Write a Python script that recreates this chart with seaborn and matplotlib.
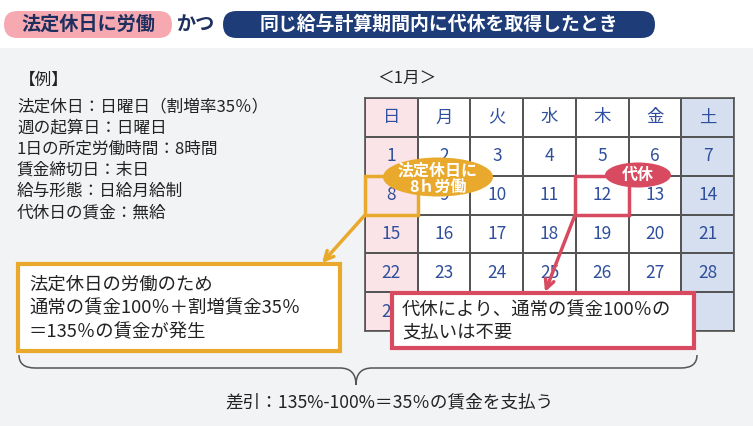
import numpy as np
import matplotlib.pyplot as plt
import seaborn as sns
from matplotlib.patches import Rectangle, FancyBboxPatch, Ellipse, PathPatch
from matplotlib.path import Path
from matplotlib.colors import ListedColormap

# Calendar data (January, week starts on Sunday)
weekdays = ['日', '月', '火', '水', '木', '金', '土']
weeks = [
    ['1', '2', '3', '4', '5', '6', '7'],
    ['8', '9', '10', '11', '12', '13', '14'],
    ['15', '16', '17', '18', '19', '20', '21'],
    ['22', '23', '24', '25', '26', '27', '28'],
    ['29', '30', '31', '', '', '', ''],
]
# colour class per weekday column: 0 normal, 1 Sunday, 2 Saturday
day_class = [1, 0, 0, 0, 0, 0, 2]

example_lines = [
    '法定休日：日曜日（割増率35％）',
    '週の起算日：日曜日',
    '1日の所定労働時間：8時間',
    '賃金締切日：末日',
    '給与形態：日給月給制',
    '代休日の賃金：無給',
]
orange_lines = ['法定休日の労働のため', '通常の賃金100％＋割増賃金35％', '＝135％の賃金が発生']
red_lines = ['代休により、通常の賃金100％の', '支払いは不要']

sns.set_theme(style='white')
plt.rcParams['font.family'] = ['Noto Sans CJK JP', 'DejaVu Sans']

W, H = 753, 426
ORANGE = '#e9a92c'
RED = '#d84a5f'
NAVY = '#1e3c78'
TXT = '#222222'
BLUE_TXT = '#2f4f9d'

fig = plt.figure(figsize=(7.53, 4.26), dpi=100)


def px_axes(z):
    ax = fig.add_axes([0, 0, 1, 1], zorder=z)
    ax.set_xlim(0, W)
    ax.set_ylim(H, 0)
    ax.axis('off')
    ax.patch.set_alpha(0)
    return ax


# background layer
bg = px_axes(0)
bg.add_patch(Rectangle((0, 48), W, H - 48, color='#f2f3f5', lw=0))
bg.add_patch(FancyBboxPatch((4, 11), 168, 27, boxstyle='round,pad=0,rounding_size=13.5',
                            fc='#f7a9b1', ec='none'))
bg.text(88, 24.5, '法定休日に労働', ha='center', va='center', fontsize=13.8,
        fontweight='bold', color='#1d2f5e')
bg.text(196, 24.5, 'かつ', ha='center', va='center', fontsize=13.8,
        fontweight='bold', color='#1d2f5e')
bg.add_patch(FancyBboxPatch((223, 11), 432, 27, boxstyle='round,pad=0,rounding_size=13.5',
                            fc=NAVY, ec='none'))
bg.text(439, 24.5, '同じ給与計算期間内に代休を取得したとき', ha='center', va='center',
        fontsize=13.6, fontweight='bold', color='white')

bg.text(19, 80, '【例】', ha='left', va='center', fontsize=12, color=TXT)
for i, line in enumerate(example_lines):
    bg.text(17, 107 + i * 21.2, line, ha='left', va='center', fontsize=12, color=TXT)
bg.text(377, 78, '＜1月＞', ha='left', va='center', fontsize=12, color=TXT)

# calendar via heatmap
labels = np.array([weekdays] + weeks, dtype=object)
cats = np.array([day_class for _ in range(len(labels))])
cmap = ListedColormap(['white', '#fbe4e7', '#d6dff0'])
ax_cal = fig.add_axes([365 / W, 1 - 331 / H, 369 / W, 233 / H], zorder=1)
sns.heatmap(cats, annot=labels, fmt='', cmap=cmap, vmin=0, vmax=2, cbar=False,
            linewidths=1.2, linecolor='#555555', xticklabels=False, yticklabels=False,
            ax=ax_cal, annot_kws={'fontsize': 12.5, 'color': BLUE_TXT})
for s in ax_cal.spines.values():
    s.set_visible(True)
    s.set_color('#555555')
    s.set_linewidth(1.2)

# overlay layer
top = px_axes(2)
top.add_patch(Rectangle((365, 176), 53, 39, fill=False, ec=ORANGE, lw=2.5))
top.add_patch(Rectangle((575, 176), 54, 39, fill=False, ec=RED, lw=2.5))
top.add_patch(Ellipse((438, 177), 110, 39, fc=ORANGE, ec='none'))
top.text(438, 170.5, '法定休日に', ha='center', va='center', fontsize=11.5,
         fontweight='bold', color='white')
top.text(438, 187, '8ｈ労働', ha='center', va='center', fontsize=11.5,
         fontweight='bold', color='white')
top.add_patch(Ellipse((638, 175), 66, 25, fc=RED, ec='none'))
top.text(638, 175, '代休', ha='center', va='center', fontsize=11.5,
         fontweight='bold', color='white')

top.annotate('', xy=(322, 263), xytext=(365, 215),
             arrowprops=dict(arrowstyle='->', color=ORANGE, lw=2.5, mutation_scale=16,
                             shrinkA=0, shrinkB=0))
top.annotate('', xy=(545, 292), xytext=(575, 215),
             arrowprops=dict(arrowstyle='->', color=RED, lw=2.5, mutation_scale=16,
                             shrinkA=0, shrinkB=0))

top.add_patch(Rectangle((18, 264), 322, 87, fc='white', ec=ORANGE, lw=3))
for i, line in enumerate(orange_lines):
    top.text(29, 285 + i * 23.5, line, ha='left', va='center', fontsize=13.2, color=TXT)
top.add_patch(Rectangle((392, 293), 302, 55, fc='white', ec=RED, lw=3))
for i, line in enumerate(red_lines):
    top.text(402, 310 + i * 22.5, line, ha='left', va='center', fontsize=13.2, color=TXT)

# curly brace
x0, x1, xm = 19, 697, 356
yt, yb, ytip = 355, 368, 385
verts = [(x0, yt), (x0, yb), (x0 + 16, yb), (xm - 16, yb), (xm, yb), (xm, ytip),
         (xm, yb), (xm + 16, yb), (x1 - 16, yb), (x1, yb), (x1, yt)]
codes = [Path.MOVETO, Path.CURVE3, Path.CURVE3, Path.LINETO, Path.CURVE3, Path.CURVE3,
         Path.CURVE3, Path.CURVE3, Path.LINETO, Path.CURVE3, Path.CURVE3]
top.add_patch(PathPatch(Path(verts, codes), fill=False, ec='#555555', lw=1.1))

top.text(389, 402, '差引：135%-100%＝35％の賃金を支払う', ha='center', va='center',
         fontsize=12.7, color=TXT)

fig.savefig('out.png', dpi=100)
